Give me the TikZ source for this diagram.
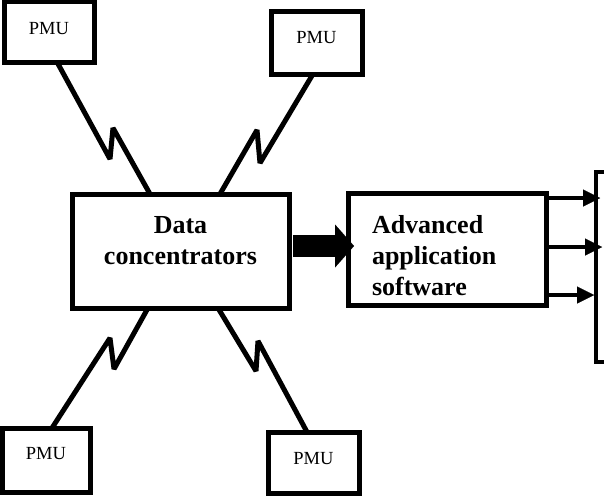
\documentclass[tikz,border=0pt]{standalone}
\usepackage{fontspec}
\setmainfont{Liberation Serif}
\usetikzlibrary{arrows.meta,calc}
\begin{document}
\begin{tikzpicture}[x=1pt,y=-1pt,
  pmubox/.style={draw,line width=5pt,outer sep=0pt,inner sep=0pt,font=\fontsize{18.5}{20}\selectfont,text height=0pt,text depth=0pt},
  bigbox/.style={draw,line width=5pt,outer sep=0pt,inner sep=0pt,font=\fontsize{26}{31}\selectfont\bfseries},
  link/.style={line width=5pt,line join=bevel},
  outarrow/.style={line width=4pt,-{Triangle[length=17pt,width=17pt,line width=0.01pt]}},
  fatarrow/.style={line width=22pt,-{Triangle[length=19pt,width=43pt,line width=0.01pt]}}
]
\useasboundingbox (0,0) rectangle (604,495);

\node[pmubox,minimum width=90pt,minimum height=60pt,text height=5pt] (pmu1) at (49,32) {PMU};
\node[pmubox,minimum width=91pt,minimum height=62pt,text height=1pt] (pmu2) at (316.5,43) {PMU};
\node[pmubox,minimum width=88pt,minimum height=64pt,text depth=1pt] (pmu3) at (46,460) {PMU};
\node[pmubox,minimum width=91pt,minimum height=61pt,text height=4pt] (pmu4) at (313.5,462.5) {PMU};

\node[bigbox,minimum width=217pt,minimum height=114pt,align=center,text height=26pt,text depth=0pt] (dc) at (180.5,251) {Data\\concentrators};
\node[bigbox,minimum width=198pt,minimum height=112pt,align=left,text width=150pt,text height=0pt,text depth=32pt] (aas) at (447,249) {Advanced\\application\\software};

\node[draw,line width=4pt,outer sep=0pt,inner sep=0pt,minimum width=20pt,minimum height=190pt] (out) at (606,267) {};

\draw[link] ($(pmu1.south west)+(53,0)$) -- (110,159) -- (113,128) -- ($(dc.north west)+(78,0)$);
\draw[link] ($(pmu2.south west)+(42,0)$) -- (260,163) -- (257,130) -- ($(dc.north west)+(148,0)$);
\draw[link] ($(dc.south west)+(76,0)$) -- (114,369) -- (110,338) -- ($(pmu3.north west)+(50,0)$);
\draw[link] ($(dc.south west)+(146,0)$) -- (256,371) -- (258,341) -- ($(pmu4.north west)+(39,0)$);

\draw[fatarrow] ($(dc.east)+(4,-5)$) -- ($(aas.west)+(6,-3)$);

\draw[outarrow] ($(aas.east)+(0,-51)$) -- ($(out.west)+(4,-69)$);
\draw[outarrow] ($(aas.east)+(0,-2)$) -- ($(out.west)+(6,-20)$);
\draw[outarrow] ($(aas.east)+(0,46)$) -- ($(out.west)+(-2,28)$);
\end{tikzpicture}
\end{document}
